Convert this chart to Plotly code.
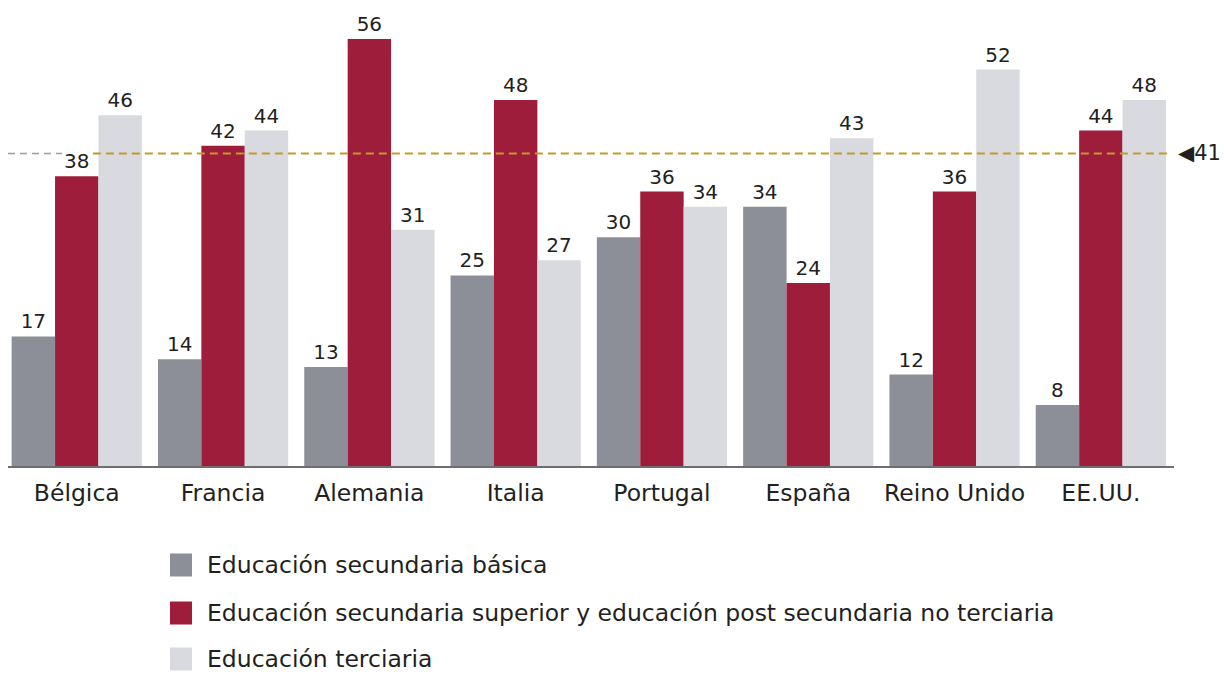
import plotly.graph_objects as go

countries = ["Bélgica", "Francia", "Alemania", "Italia", "Portugal", "España", "Reino Unido", "EE.UU."]
series_names = [
    "Educación secundaria básica",
    "Educación secundaria superior y educación post secundaria no terciaria",
    "Educación terciaria",
]
basica = [17, 14, 13, 25, 30, 34, 12, 8]
superior = [38, 42, 56, 48, 36, 24, 36, 44]
terciaria = [46, 44, 31, 27, 34, 43, 52, 48]
reference_value = 41

colors = ["#8c8f97", "#9e1d3b", "#d9dadf"]
FONT = "Century Gothic, DejaVu Sans, sans-serif"
TXT = "#231f20"

W, H = 1224, 674
ML, MR, MT = 8, 50, 5
BASE_Y = 466
MB = H - BASE_Y
PH = BASE_Y - MT
YMAX = PH / 7.625

fig = go.Figure()
for name, vals, col in zip(series_names, [basica, superior, terciaria], colors):
    fig.add_trace(go.Bar(
        x=countries, y=vals, name=name, marker_color=col, marker_line_width=0,
        text=[str(v) for v in vals], textposition="outside",
        textfont=dict(family=FONT, size=20, color=TXT),
        cliponaxis=False, showlegend=False, hoverinfo="x+y",
    ))

# reference line: grey part at left, gold part across
fig.add_shape(type="line", xref="x", yref="y", x0=-0.47, x1=-0.10,
              y0=reference_value, y1=reference_value,
              line=dict(color="#9a9ca3", width=1.5, dash="7px,5px"))
fig.add_shape(type="line", xref="x", yref="y", x0=0.11, x1=7.47,
              y0=reference_value, y1=reference_value,
              line=dict(color="#c39a2c", width=2, dash="8px,5px"), layer="above")
fig.add_annotation(xref="paper", yref="y", x=1.0, y=reference_value, xanchor="left",
                   yanchor="middle", xshift=2, showarrow=False,
                   text="◀41", font=dict(family=FONT, size=21, color=TXT))

# legend drawn manually
def py2paper(py):
    return (BASE_Y - py) / PH

def px2paper(px):
    return (px - ML) / (W - ML - MR)

leg_y = [565, 613, 659]
for name, col, cy in zip(series_names, colors, leg_y):
    fig.add_shape(type="rect", xref="paper", yref="paper",
                  x0=px2paper(170), x1=px2paper(192),
                  y0=py2paper(cy - 11.5), y1=py2paper(cy + 11.5),
                  fillcolor=col, line_width=0)
    fig.add_annotation(xref="paper", yref="paper", x=px2paper(206), y=py2paper(cy),
                       xanchor="left", yanchor="middle", showarrow=False, text=name,
                       borderpad=0,
                       font=dict(family=FONT, size=23.5, color=TXT))

fig.update_layout(
    width=W, height=H,
    margin=dict(l=ML, r=MR, t=MT, b=MB),
    paper_bgcolor="white", plot_bgcolor="white",
    barmode="group", bargap=0.11, bargroupgap=0,
    xaxis=dict(range=[-0.47, 7.5], showline=True, linecolor="#6d6e71", linewidth=2,
               ticks="", tickfont=dict(family=FONT, size=23.5, color=TXT),
               ticklabelstandoff=5, showgrid=False, fixedrange=True),
    yaxis=dict(range=[0, YMAX], visible=False, showgrid=False, zeroline=False),
)

fig.write_html("out.html", config={"displayModeBar": False},
               post_script="document.body.style.margin='0';document.body.style.overflow='hidden';")
